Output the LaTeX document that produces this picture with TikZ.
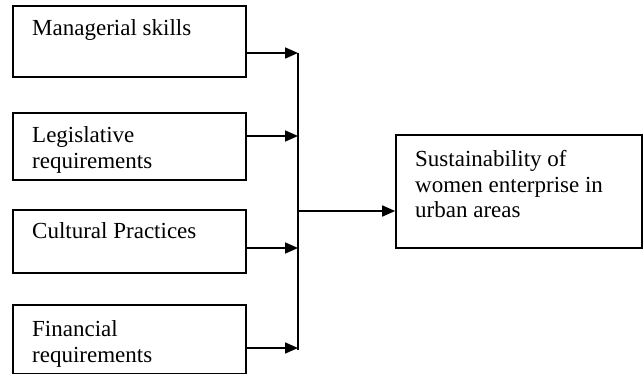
\documentclass[tikz,border=0pt]{standalone}
\usepackage{fontspec}
\setmainfont{Liberation Serif}
\usetikzlibrary{arrows.meta}
\begin{document}
\begin{tikzpicture}[x=1pt,y=-1pt,
  box/.style={draw,line width=1.6pt,rectangle,inner sep=0pt},
  lbl/.style={anchor=base west,inner sep=0pt,font=\fontsize{23}{25.2}\selectfont},
  conn/.style={line width=1.6pt},
  arr/.style={conn,-{Triangle[length=13pt,width=11pt]}}]
\useasboundingbox (0,0) rectangle (643,374);
\node[box,minimum width=233pt,minimum height=71pt] (b1) at (129.5,41.5) {};
\node[box,minimum width=233pt,minimum height=67pt] (b2) at (129.5,146.5) {};
\node[box,minimum width=233pt,minimum height=63pt] (b3) at (129.5,241.5) {};
\node[box,minimum width=233pt,minimum height=69pt] (b4) at (129.5,339.5) {};
\node[box,minimum width=246pt,minimum height=113pt] (t) at (519,191.5) {};
\node[lbl] (l1) at (32,36) {Managerial skills};
\node[lbl] (l2) at (32,143) {\begin{tabular}[t]{@{}l@{}}Legislative\\requirements\end{tabular}};
\node[lbl] (l3) at (32,239) {Cultural Practices};
\node[lbl] (l4) at (32,337) {\begin{tabular}[t]{@{}l@{}}Financial\\requirements\end{tabular}};
\node[lbl] (lt) at (415,167) {\begin{tabular}[t]{@{}l@{}}Sustainability of\\women enterprise in\\urban areas\end{tabular}};
\coordinate (j1) at (298,53);
\coordinate (j2) at (298,136);
\coordinate (j3) at (298,248);
\coordinate (j4) at (298,348);
\coordinate (jt) at (298,211);
\coordinate (jbot) at (298,350);
\draw[arr] (b1.east |- j1) -- (j1);
\draw[arr] (b2.east |- j2) -- (j2);
\draw[arr] (b3.east |- j3) -- (j3);
\draw[arr] (b4.east |- j4) -- (j4);
\draw[conn] (j1) -- (jbot);
\draw[arr] (jt) -- (t.west |- jt);
\end{tikzpicture}
\end{document}
